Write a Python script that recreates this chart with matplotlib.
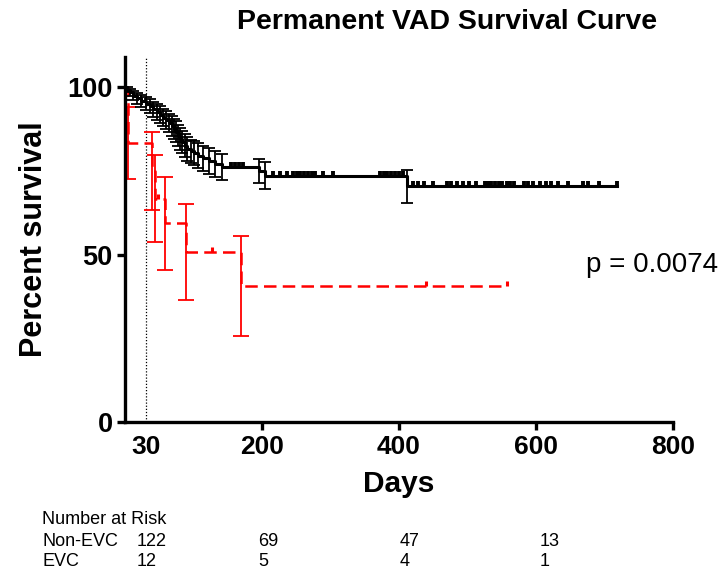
import numpy as np
import matplotlib
matplotlib.use("Agg")
import matplotlib.pyplot as plt
from matplotlib.markers import TICKUP

plt.rcParams['font.family'] = ['Liberation Sans', 'DejaVu Sans']

# ---------------- data ----------------
# Non-EVC (black) Kaplan-Meier steps
times_b = [0, 3, 7, 12, 18, 24, 30, 36, 41, 46, 51, 56, 60, 64, 68, 71, 74, 77,
           80, 83, 87, 91, 96, 101, 107, 114, 122, 131, 142, 195, 205, 411]
surv_b = [100, 99.2, 98.4, 97.5, 96.7, 95.9, 95.1, 94.3, 93.4, 92.6, 91.8, 90.9,
          90.1, 89.3, 88.4, 87.6, 86.7, 85.5, 84.5, 83.5, 82.5, 81.5, 80.8, 80.2,
          79.5, 78.8, 78.0, 77.1, 76.1, 74.9, 73.6, 70.4]
err_b = [0, 0.8, 1.1, 1.4, 1.6, 1.8, 2.0, 2.1, 2.3, 2.4, 2.5, 2.6, 2.7, 2.8, 2.9,
         3.0, 3.1, 3.2, 3.2, 3.3, 3.4, 3.5, 3.5, 3.6, 3.7, 3.7, 3.8, 3.9, 3.9,
         3.6, 4.0, 5.0]
end_b = 718
censor_b = [155, 160, 166, 172, 216, 226, 236, 245, 251, 255, 262, 267, 273, 277,
            289, 304, 372, 378, 383, 388, 394, 400, 406, 420, 428, 436, 449, 470,
            476, 484, 493, 502, 512, 525, 530, 535, 540, 546, 551, 557, 562, 568,
            582, 588, 596, 606, 614, 622, 632, 646, 668, 676, 692, 718]

# EVC (red) Kaplan-Meier steps
times_r = [0, 4, 39, 44, 58, 89, 170]
surv_r = [100, 83.3, 75.0, 66.7, 59.3, 50.8, 40.6]
err_r = [0, 10.8, 11.7, 12.9, 14.0, 14.4, 14.8]
end_r = 557
censor_r = [48, 127, 440, 557]

# number at risk table
risk_header = "Number at Risk"
risk_groups = ["Non-EVC", "EVC"]
risk_nonevc = ["122", "69", "47", "13"]
risk_evc = ["12", "5", "4", "1"]

xticks = [30, 200, 400, 600, 800]
yticks = [0, 50, 100]

# ---------------- figure ----------------
W, H = 722, 575
fig = plt.figure(figsize=(W / 100, H / 100), dpi=100)
ax = fig.add_axes([125 / W, 1 - 422 / H, 548 / W, (422 - 57) / H])


def step_value(times, surv, t):
    idx = np.searchsorted(np.asarray(times), t, side='right') - 1
    return np.asarray(surv)[idx]


# black curve
ax.step(times_b + [end_b], surv_b + [surv_b[-1]], where='post', color='black',
        lw=2.2, zorder=3)
ax.errorbar(times_b[1:], surv_b[1:], yerr=err_b[1:], fmt='none', ecolor='black',
            elinewidth=1.3, capsize=4.5, capthick=1.3, zorder=3)
ax.plot(censor_b, [step_value(times_b, surv_b, t) for t in censor_b],
        ls='none', marker=TICKUP, ms=3.5, mew=2.8, color='black', zorder=4)

# red curve
ax.step(times_r + [end_r], surv_r + [surv_r[-1]], where='post', color='#ff0000',
        lw=1.8, ls=(0, (5, 2.5)), zorder=2)
ax.errorbar(times_r[1:], surv_r[1:], yerr=err_r[1:], fmt='none', ecolor='#ff0000',
            elinewidth=1.3, capsize=5.5, capthick=1.3, zorder=2)
ax.plot(censor_r, [step_value(times_r, surv_r, t) for t in censor_r],
        ls='none', marker=TICKUP, ms=3.5, mew=2.2, color='#ff0000', zorder=2)

# dotted line at 30 days
ax.axvline(30, color='black', lw=0.9, ls=(0, (1, 1.5)), zorder=1)

ax.set_xlim(0, 800)
ax.set_ylim(0, 109)
for s in ['top', 'right']:
    ax.spines[s].set_visible(False)
for s in ['left', 'bottom']:
    ax.spines[s].set_linewidth(2.4)

ax.set_xticks(xticks)
ax.set_xticklabels([str(v) for v in xticks], fontsize=19, fontweight='bold')
ax.set_yticks(yticks)
ax.set_yticklabels([str(v) for v in yticks], fontsize=19.5, fontweight='bold')
ax.tick_params(axis='both', width=2.4, length=6, direction='out', pad=3)
ax.xaxis.get_major_ticks()[0].tick1line.set_visible(False)

ax.set_xlabel("Days", fontsize=21.5, fontweight='bold', labelpad=8)
ax.set_ylabel("Percent survival", fontsize=22, fontweight='bold', labelpad=13)

fig.text(447 / W, 1 - 22 / H, "Permanent VAD Survival Curve", fontsize=20.5,
         fontweight='bold', ha='center', va='center')
ax.text(0.841, 0.43, "p = 0.0074", transform=ax.transAxes, fontsize=20,
        ha='left', va='center')

# number at risk table
col_x = [137, 258, 400, 540]
fig.text(42 / W, 1 - 520 / H, risk_header, fontsize=13, ha='left', va='center')
for row_y, name, vals in zip([541, 562], risk_groups, [risk_nonevc, risk_evc]):
    fig.text(42 / W, 1 - row_y / H, name, fontsize=13, ha='left', va='center')
    for cx, v in zip(col_x, vals):
        fig.text(cx / W, 1 - row_y / H, v, fontsize=13, ha='left', va='center')

fig.savefig("out.png", dpi=100)
